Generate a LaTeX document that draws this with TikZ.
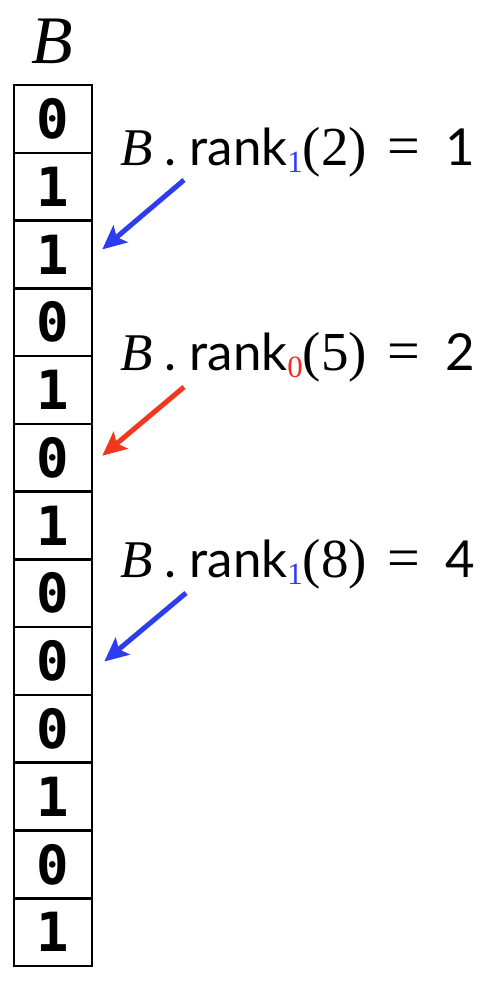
\documentclass[tikz,border=0pt]{standalone}
\usepackage{fontspec}
\setmainfont{Liberation Serif}
\newfontfamily\digitfont{DejaVu Sans Mono}
\newfontfamily\labsans{Lato}
\usetikzlibrary{arrows.meta}
\definecolor{arrblue}{RGB}{46,60,240}
\definecolor{arrred}{RGB}{240,56,30}
\definecolor{subblue}{RGB}{50,60,245}
\definecolor{subred}{RGB}{245,40,30}
\tikzset{
  cell/.style={draw=black, line width=2.5pt, minimum width=78pt, minimum height=67.77pt,
    inner sep=0pt, font=\digitfont\bfseries\fontsize{54}{54}\selectfont},
  lbl/.style={anchor=base west, inner sep=0pt},
  ptr/.style={line width=5pt, -{Stealth[length=24pt,width=22pt,inset=5pt]}},
}
\newcommand{\rk}[4]{%
  {\fontsize{53}{53}\selectfont\itshape B}\hspace{12pt}{\labsans\fontsize{51}{51}\selectfont .}\hspace{13pt}%
  {\labsans\fontsize{51}{51}\selectfont rank}%
  \raisebox{-7pt}{\fontsize{31}{31}\selectfont\color{#1}#2}%
  {\fontsize{55}{55}\selectfont(#3)}\hspace{20pt}%
  {\fontsize{58}{58}\selectfont =}\hspace{26pt}{\labsans\fontsize{51}{51}\selectfont #4}}
\begin{document}
\begin{tikzpicture}[x=1pt,y=-1pt]
\useasboundingbox (0,0) rectangle (490,983);
\node[anchor=base, inner sep=0pt, font=\fontsize{68}{68}\selectfont\itshape] (title) at (52,63) {B};
\foreach \v [count=\i from 0] in {0,1,1,0,1,0,1,0,0,0,1,0,1} {
  \node[cell] (c\i) at (53, {85+67.77*\i+33.885}) {\v};
}
\node[lbl] (l1) at (120,165) {\rk{subblue}{1}{2}{1}};
\node[lbl] (l2) at (120,370) {\rk{subred}{0}{5}{2}};
\node[lbl] (l3) at (120,577) {\rk{subblue}{1}{8}{4}};
\coordinate (s1) at (184,180);
\coordinate (s2) at (184,387);
\coordinate (s3) at (186,593);
\draw[ptr, arrblue] (s1) -- ([xshift=9pt,yshift=5pt]c2.east);
\draw[ptr, arrred] (s2) -- ([xshift=9pt,yshift=2pt]c5.east);
\draw[ptr, arrblue] (s3) -- ([xshift=11pt,yshift=-0.5pt]c8.east);
\end{tikzpicture}
\end{document}
